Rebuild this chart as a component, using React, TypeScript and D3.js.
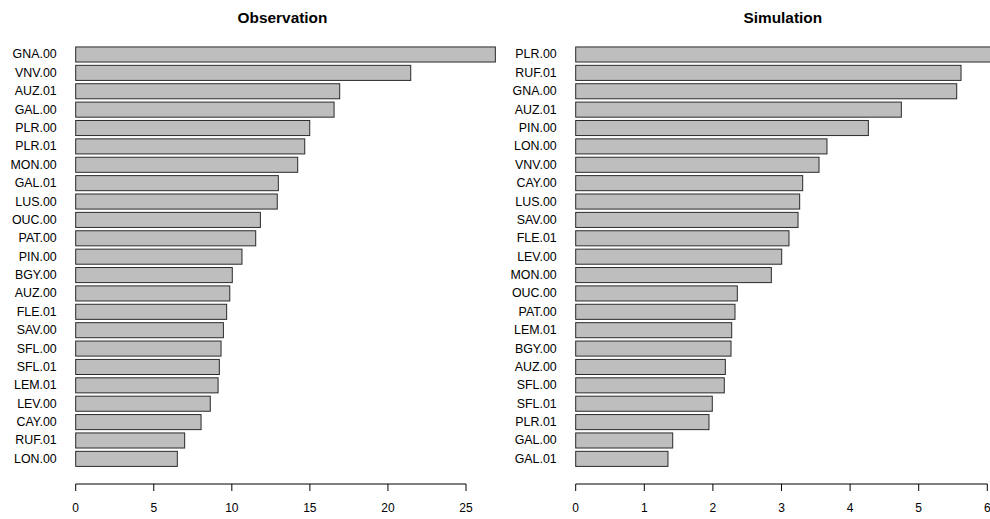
import React from "react";
import * as d3 from "d3";

const obsCategories = ["GNA.00","VNV.00","AUZ.01","GAL.00","PLR.00","PLR.01","MON.00","GAL.01","LUS.00","OUC.00","PAT.00","PIN.00","BGY.00","AUZ.00","FLE.01","SAV.00","SFL.00","SFL.01","LEM.01","LEV.00","CAY.00","RUF.01","LON.00"];
const obsValues = [26.88,21.46,16.91,16.55,14.99,14.67,14.22,12.98,12.91,11.83,11.53,10.65,10.03,9.87,9.67,9.46,9.31,9.20,9.12,8.62,8.03,6.98,6.51];
const obsTicks = [0,5,10,15,20,25];

const simCategories = ["PLR.00","RUF.01","GNA.00","AUZ.01","PIN.00","LON.00","VNV.00","CAY.00","LUS.00","SAV.00","FLE.01","LEV.00","MON.00","OUC.00","PAT.00","LEM.01","BGY.00","AUZ.00","SFL.00","SFL.01","PLR.01","GAL.00","GAL.01"];
const simValues = [6.2,5.617,5.554,4.747,4.266,3.663,3.547,3.309,3.265,3.241,3.109,3.003,2.852,2.356,2.322,2.274,2.264,2.181,2.166,1.991,1.943,1.414,1.345];
const simTicks = [0,1,2,3,4,5,6];

const W = 990;
const H = 519;
const FONT = "'Liberation Sans', Arial, Helvetica, sans-serif";

type PanelProps = {
  title: string;
  categories: string[];
  values: number[];
  ticks: number[];
  x0: number;
  xMaxPx: number;
  titleX: number;
};

function Panel({ title, categories, values, ticks, x0, xMaxPx, titleX }: PanelProps) {
  const tMax = ticks[ticks.length - 1];
  const x = d3.scaleLinear().domain([0, tMax]).range([x0, xMaxPx]);
  const y = d3
    .scaleBand<string>()
    .domain(categories)
    .range([45.3, 468.05])
    .paddingInner(0.18)
    .paddingOuter(0.09);
  const axisY = 484;
  return (
    <g>
      <text
        x={titleX}
        y={17}
        textAnchor="middle"
        dominantBaseline="central"
        fontFamily={FONT}
        fontWeight="bold"
        fontSize={15.4}
        fill="#000"
      >
        {title}
      </text>
      {categories.map((c, i) => (
        <g key={c + i}>
          <rect
            x={x(0)}
            y={y(c)!}
            width={Math.max(0, x(values[i]) - x(0))}
            height={y.bandwidth()}
            fill="#BEBEBE"
            stroke="#2a2a2a"
            strokeWidth={1}
          />
          <text
            x={x0 - 19}
            y={y(c)! + y.bandwidth() / 2}
            textAnchor="end"
            dominantBaseline="central"
            fontFamily={FONT}
            fontSize={12.4}
            fill="#000"
          >
            {c}
          </text>
        </g>
      ))}
      <line x1={x(0)} x2={x(tMax)} y1={axisY} y2={axisY} stroke="#000" strokeWidth={1} />
      {ticks.map((t) => (
        <g key={t}>
          <line x1={x(t)} x2={x(t)} y1={axisY} y2={axisY + 7} stroke="#000" strokeWidth={1} />
          <text
            x={x(t)}
            y={508}
            textAnchor="middle"
            dominantBaseline="central"
            fontFamily={FONT}
            fontSize={12}
            fill="#000"
          >
            {t}
          </text>
        </g>
      ))}
    </g>
  );
}

export default function App() {
  return (
    <svg
      width={W}
      height={H}
      viewBox={`0 0 ${W} ${H}`}
      style={{ position: "fixed", left: 0, top: 0, background: "#fff" }}
    >
      <rect x={0} y={0} width={W} height={H} fill="#fff" />
      <Panel
        title="Observation"
        categories={obsCategories}
        values={obsValues}
        ticks={obsTicks}
        x0={75.7}
        xMaxPx={466}
        titleX={282.5}
      />
      <Panel
        title="Simulation"
        categories={simCategories}
        values={simValues}
        ticks={simTicks}
        x0={575.7}
        xMaxPx={987.3}
        titleX={782.8}
      />
    </svg>
  );
}
